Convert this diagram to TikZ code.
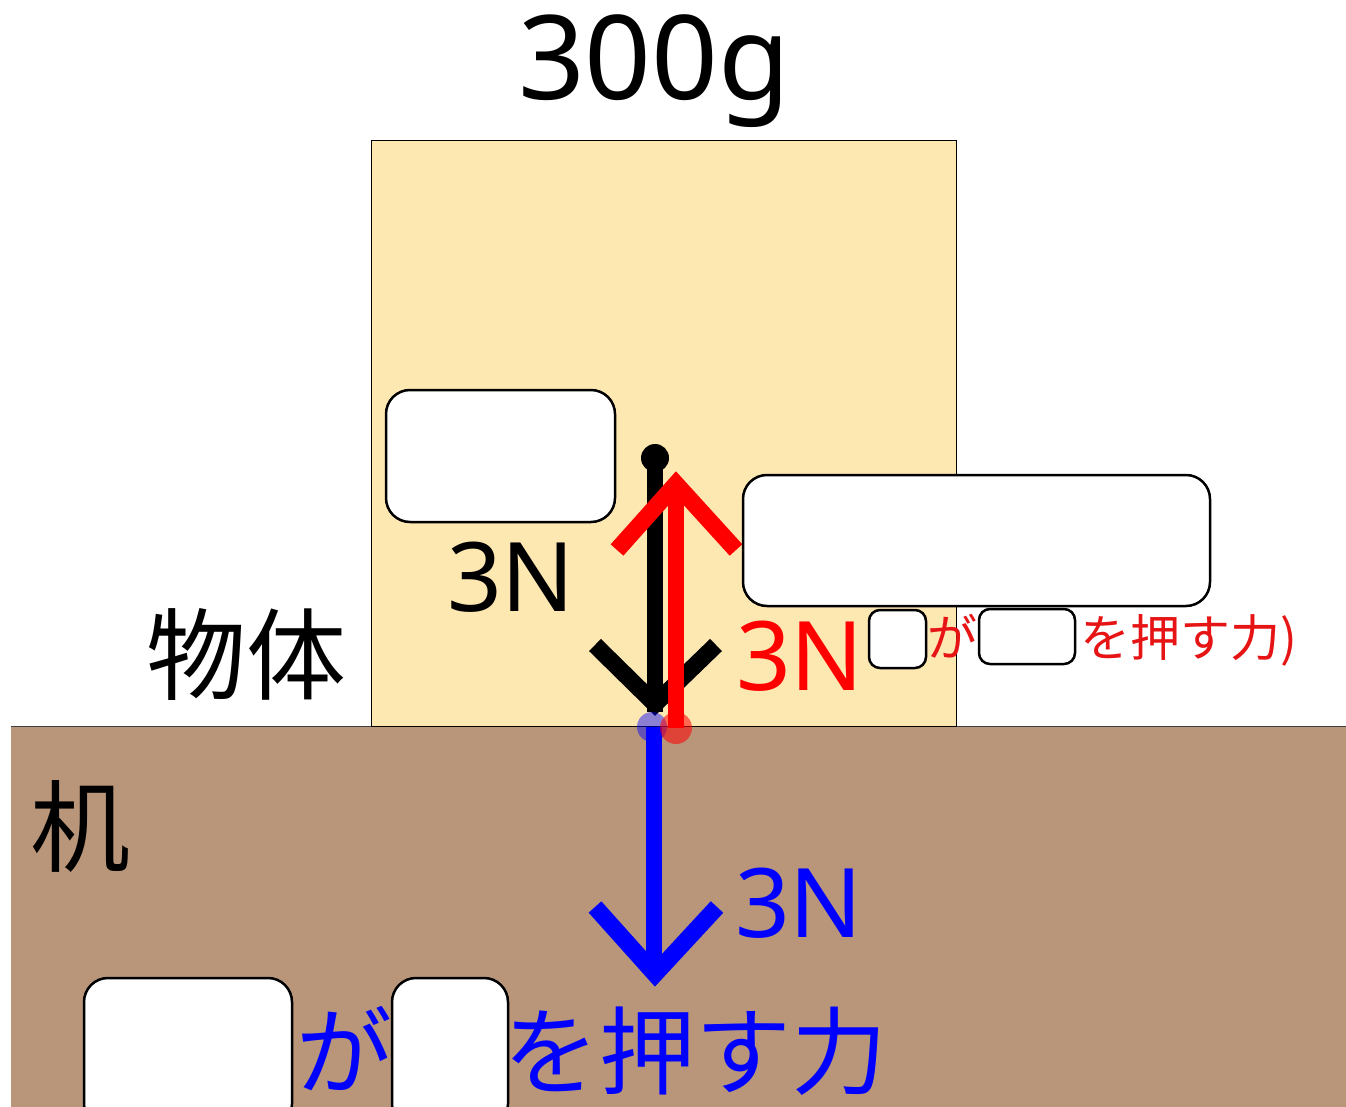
\documentclass[tikz,border=0pt]{standalone}
\usepackage{fontspec}
\newfontfamily\latfont{Noto Sans}
\newfontfamily\jpfont{Noto Sans CJK JP}
\definecolor{boxcol}{RGB}{254,232,178}
\definecolor{deskcol}{RGB}{185,150,122}
\definecolor{pureblue}{RGB}{0,0,255}
\definecolor{purered}{RGB}{255,0,0}
\definecolor{labelred}{RGB}{230,20,20}
\tikzset{
  txt/.style={anchor=base west, inner sep=0pt, outer sep=0pt},
  bignum/.style={txt, font=\latfont\fontsize{96}{96}\selectfont},
  kanji/.style={txt, font=\jpfont\fontsize{100}{100}\selectfont},
  blank/.style={draw=black, fill=white, line width=2.5pt, rounded corners=24pt, inner sep=0pt},
  smallblank/.style={draw=black, fill=white, line width=2.5pt, rounded corners=11pt, inner sep=0pt},
  shaft/.style={line width=16pt},
  chevron/.style={line width=17pt, line join=miter, miter limit=10},
}
\begin{document}
\begin{tikzpicture}[x=1pt,y=-1pt]
\useasboundingbox (0,0) rectangle (1346,1107);
\fill[white] (0,0) rectangle (1346,1107);
% desk
\fill[deskcol] (11,726) rectangle (1346,1107);
\draw[black!75, line width=1pt] (11,726) -- (1346,726);
% object box
\node[draw=black, fill=boxcol, line width=1pt, minimum width=585pt, minimum height=585pt, inner sep=0pt] (obj) at (663.5,433.5) {};
% texts
\node[txt, font=\latfont\fontsize{117}{117}\selectfont] (mass) at (518,100) {300g};
\node[bignum] (nblack) at (447,611) {3N};
\node[bignum, text=purered] (nred) at (736,690) {3N};
\node[bignum, text=pureblue] (nblue) at (735,937) {3N};
\node[kanji] (buttai) at (146,692) {物体};
\node[kanji] (tsukue) at (30,864) {机};
% red small label
\node[txt, text=labelred, font=\jpfont\fontsize{50}{50}\selectfont] (rp) at (866,656) {(};
\node[txt, text=labelred, font=\jpfont\fontsize{50}{50}\selectfont] (rga) at (927,656) {が};
\node[txt, text=labelred, font=\jpfont\fontsize{50}{50}\selectfont] (rrest) at (1080,656) {を押す力)};
% blue bottom label
\node[txt, text=pureblue, font=\jpfont\fontsize{96}{96}\selectfont] (bga) at (296,1087) {が};
\node[txt, text=pureblue, font=\jpfont\fontsize{96}{96}\selectfont] (brest) at (503,1087) {を押す力};
% black arrow (gravity)
\coordinate (gtop) at (655,458);
\coordinate (gbot) at (655,712);
\draw[shaft, black] (gtop) -- (gbot);
\draw[chevron, black] (595,645) -- (655,704) -- (716,645);
\fill[black] (gtop) circle (14pt);
% red arrow (normal force)
\coordinate (rbot) at (676,728);
\coordinate (rtop) at (676,484);
\draw[shaft, purered] (rbot) -- (rtop);
\draw[chevron, purered] (617,550) -- (676,484) -- (736,550);
% blue arrow (force on desk)
\coordinate (bltop) at (654,727);
\coordinate (blbot) at (654,974);
\draw[shaft, pureblue] (bltop) -- (blbot);
\draw[chevron, pureblue] (595,907) -- (655,974) -- (717,907);
% action points
\fill[pureblue, opacity=0.45] (652,727) circle (15pt);
\fill[purered, opacity=0.55] (676,728) circle (16pt);
% blanks
\node[blank, minimum width=229pt, minimum height=132pt] (b1) at (500.5,456) {};
\node[blank, minimum width=467pt, minimum height=131pt] (b2) at (976.5,540.5) {};
\node[smallblank, minimum width=57pt, minimum height=58pt] (b3) at (897.5,639) {};
\node[smallblank, minimum width=96pt, minimum height=55pt] (b4) at (1027,636.5) {};
\node[blank, minimum width=208pt, minimum height=150pt] (b5) at (188,1053) {};
\node[blank, minimum width=116pt, minimum height=150pt] (b6) at (450,1053) {};
\end{tikzpicture}
\end{document}
